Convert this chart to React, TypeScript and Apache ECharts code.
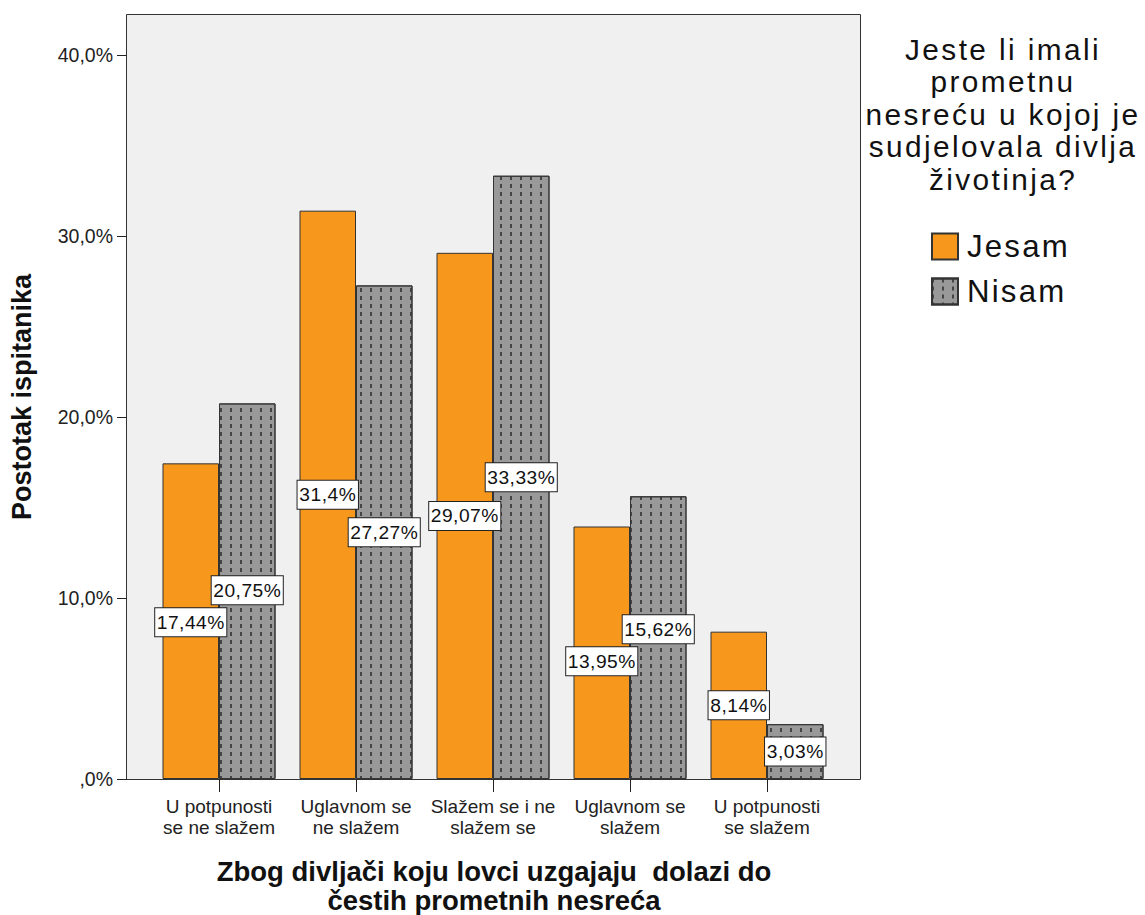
import React, { useEffect, useRef } from 'react';
import * as echarts from 'echarts';

const categories = [
  'U potpunosti\nse ne slažem',
  'Uglavnom se\nne slažem',
  'Slažem se i ne\nslažem se',
  'Uglavnom se\nslažem',
  'U potpunosti\nse slažem',
];
const seriesNames = ['Jesam', 'Nisam'];
const jesamValues = [17.44, 31.4, 29.07, 13.95, 8.14];
const nisamValues = [20.75, 27.27, 33.33, 15.62, 3.03];
const yTicks = [0, 10, 20, 30, 40];
const legendTitle = 'Jeste li imali\nprometnu\nnesreću u kojoj je\nsudjelovala divlja\nživotinja?';
const xTitle = 'Zbog divljači koju lovci uzgajaju  dolazi do\nčestih prometnih nesreća';
const yTitle = 'Postotak ispitanika';

const FONT = '"Liberation Sans", Arial, Helvetica, sans-serif';

const fmtPct = (v: number) => String(v).replace('.', ',') + '%';
const fmtTick = (v: number) => (v === 0 ? ',0%' : v.toFixed(1).replace('.', ',') + '%');

const CSS = `
svg text[style*="29.8px"] { letter-spacing: 2.4px; }
svg text[style*="31.2px"] { letter-spacing: 2.2px; }
svg text[style*="19.2px"] { letter-spacing: 0.5px; }
`;

export default function App() {
  const ref = useRef<HTMLDivElement>(null);
  useEffect(() => {
    document.body.style.margin = '0';
    if (!ref.current) return;
    const chart = echarts.init(ref.current, null, { renderer: 'svg' });
    const series = [jesamValues, nisamValues];
    const MIN_SEP = 32;
    const labelLayout = (params: any) => {
      const i = params.dataIndex;
      const s = params.seriesIndex;
      const own = series[s][i];
      const other = series[1 - s][i];
      if (!own || !params.rect) return {};
      const pxPer = params.rect.height / own;
      const sep = (Math.abs(own - other) * pxPer) / 2;
      if (sep >= MIN_SEP) return {};
      const shift = (MIN_SEP - sep) / 2;
      return { dy: own >= other ? -shift : shift };
    };
    const label = {
      show: true,
      position: 'inside',
      formatter: (p: any) => fmtPct(p.value),
      color: '#111',
      fontFamily: FONT,
      fontSize: 19.2,
      backgroundColor: '#ffffff',
      borderColor: '#222',
      borderWidth: 1,
      padding: [5, 3, 4, 3],
    };
    chart.setOption({
      animation: false,
      backgroundColor: '#ffffff',
      grid: { left: 150.5, top: 55, width: 685, height: 724, containLabel: false },
      xAxis: {
        type: 'category',
        data: categories,
        axisLine: { show: false },
        axisTick: { show: true, alignWithLabel: true, length: 13, lineStyle: { color: '#222' } },
        axisLabel: { color: '#222', fontFamily: FONT, fontSize: 19, lineHeight: 21, margin: 17, interval: 0 },
        splitLine: { show: false },
      },
      yAxis: {
        type: 'value',
        min: yTicks[0],
        max: yTicks[yTicks.length - 1],
        interval: 10,
        offset: 23.5,
        axisLine: { show: false },
        axisTick: { show: true, length: 10, lineStyle: { color: '#222' } },
        axisLabel: { color: '#222', fontFamily: FONT, fontSize: 19.5, margin: 14, formatter: fmtTick },
        splitLine: { show: false },
      },
      legend: {
        data: seriesNames,
        orient: 'vertical',
        left: 926,
        top: 226,
        itemWidth: 26,
        itemHeight: 26,
        itemGap: 14,
        icon: 'rect',
        textStyle: { fontFamily: FONT, fontSize: 31.2, color: '#111', padding: [0, 0, 0, 4] },
      },
      graphic: [
        {
          type: 'rect',
          z: -10,
          shape: { x: 126.5, y: 14.5, width: 734, height: 765 },
          style: { fill: '#f0f0f0', stroke: '#333', lineWidth: 1 },
          silent: true,
        },
        {
          type: 'text',
          x: 1003,
          y: 33,
          style: {
            text: legendTitle,
            fontFamily: FONT,
            fontSize: 29.8,
            fill: '#111',
            align: 'center',
            textAlign: 'center',
            verticalAlign: 'top',
            textVerticalAlign: 'top',
            lineHeight: 32.5,
          },
        },
        {
          type: 'text',
          x: 494,
          y: 857,
          style: {
            text: xTitle,
            fontFamily: FONT,
            fontSize: 27.5,
            fontWeight: 'bold',
            fill: '#111',
            align: 'center',
            textAlign: 'center',
            verticalAlign: 'top',
            textVerticalAlign: 'top',
            lineHeight: 29,
          },
        },
        {
          type: 'text',
          x: 22,
          y: 397,
          rotation: Math.PI / 2,
          style: {
            text: yTitle,
            fontFamily: FONT,
            fontSize: 27,
            fontWeight: 'bold',
            fill: '#111',
            align: 'center',
            textAlign: 'center',
            verticalAlign: 'middle',
            textVerticalAlign: 'middle',
          },
        },
      ],
      series: [
        {
          name: seriesNames[0],
          type: 'bar',
          data: jesamValues,
          barWidth: 56.5,
          barGap: '0%',
          itemStyle: { color: '#f7981d', borderColor: '#333', borderWidth: 1 },
          label,
          labelLayout,
        },
        {
          name: seriesNames[1],
          type: 'bar',
          data: nisamValues,
          barWidth: 56.5,
          barGap: '0%',
          itemStyle: {
            color: '#999999',
            borderColor: '#333',
            borderWidth: 1,
            decal: {
              symbol: 'rect',
              symbolSize: 1,
              color: '#444444',
              dashArrayX: [1.5, 8],
              dashArrayY: [4, 4],
              rotation: 0,
            },
          },
          label,
          labelLayout,
        },
      ],
    });
    return () => chart.dispose();
  }, []);
  return (
    <>
      <style>{CSS}</style>
      <div ref={ref} style={{ width: 1145, height: 915 }} />
    </>
  );
}
